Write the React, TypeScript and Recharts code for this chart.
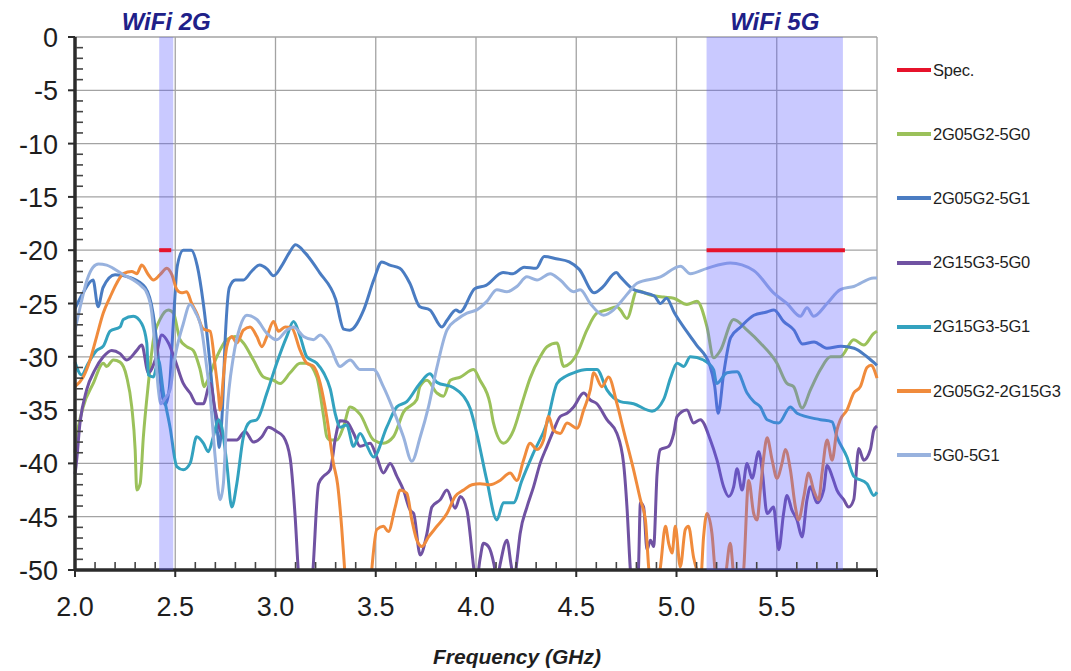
import React from "react";
import {
  LineChart,
  Line,
  XAxis,
  YAxis,
  CartesianGrid,
  ReferenceArea,
  ReferenceLine,
} from "recharts";

type Pt = [number, number];

// frequency (GHz), isolation (dB)
const specWifi2G: Pt[] = [[2.42, -20], [2.48, -20]];
const specWifi5G: Pt[] = [[5.15, -20], [5.84, -20]];

const bandWifi2G = [2.42, 2.49];
const bandWifi5G = [5.15, 5.83];

const iso2G05G2_5G0: Pt[] = [
  [2.0, -39], [2.005, -38.1], [2.041, -34.7], [2.091, -32.5], [2.141, -30.6], [2.158, -30.9],
  [2.191, -30.3], [2.225, -30.5], [2.258, -31.9], [2.283, -34.7], [2.3, -38.7], [2.308, -42.5],
  [2.325, -41.9], [2.341, -37.5], [2.366, -32.5], [2.391, -28.4], [2.424, -26.5], [2.466, -25.6],
  [2.491, -25.9], [2.524, -28.4], [2.557, -29.05], [2.59, -29.4], [2.624, -31.2], [2.645, -32.8],
  [2.657, -32.4], [2.707, -30.0], [2.757, -28.4], [2.798, -28.1], [2.84, -28.7], [2.89, -30.3],
  [2.94, -31.9], [2.99, -32.2], [3.023, -32.5], [3.073, -31.5], [3.123, -30.6], [3.156, -30.6],
  [3.206, -31.9], [3.24, -35.6], [3.256, -37.5], [3.273, -37.8], [3.306, -37.8], [3.34, -36.5],
  [3.372, -34.7], [3.422, -35.4], [3.489, -37.8], [3.538, -38.1], [3.588, -37.5], [3.638, -35.2],
  [3.705, -34.0], [3.72, -32.8], [3.755, -32.2], [3.805, -33.4], [3.838, -33.7], [3.872, -32.2],
  [3.922, -31.9], [3.988, -31.2], [4.02, -32.2], [4.07, -34.4], [4.087, -36.2], [4.137, -38.1],
  [4.187, -36.9], [4.229, -34.4], [4.27, -32.0], [4.32, -30.0], [4.354, -29.05], [4.404, -28.7],
  [4.437, -30.9], [4.47, -30.6], [4.504, -29.7], [4.553, -27.5], [4.603, -25.9], [4.653, -25.6],
  [4.703, -25.3], [4.72, -25.6], [4.753, -26.4], [4.803, -23.8], [4.87, -24.2], [4.936, -24.4],
  [4.986, -24.5], [5.052, -25.1], [5.102, -24.8], [5.152, -27.2], [5.185, -30.1], [5.219, -29.4],
  [5.285, -26.5], [5.352, -27.5], [5.418, -28.7], [5.501, -30.6], [5.551, -32.5], [5.584, -32.8],
  [5.626, -34.8], [5.668, -33.1], [5.718, -31.2], [5.768, -30.0], [5.817, -30.0], [5.884, -28.4],
  [5.934, -28.9], [5.984, -27.8], [6.0, -27.6],
];

const iso2G05G2_5G1: Pt[] = [
  [2.0, -25.5], [2.04, -24.0], [2.09, -22.8], [2.115, -25.3], [2.14, -23.5], [2.2, -22.3],
  [2.28, -22.6], [2.35, -23.5], [2.39, -26], [2.41, -29], [2.43, -33], [2.45, -34.5], [2.47, -33],
  [2.49, -27], [2.51, -21.5], [2.54, -20], [2.58, -20], [2.61, -21.5], [2.64, -25], [2.67, -30],
  [2.69, -34], [2.71, -37], [2.72, -38.5], [2.735, -35], [2.75, -28], [2.77, -23.5], [2.8, -22.8],
  [2.84, -22.8], [2.88, -22], [2.92, -21.4], [2.96, -21.8], [2.99, -22.4], [3.03, -21.5],
  [3.07, -20.2], [3.1, -19.5], [3.15, -20.3], [3.22, -22.1], [3.3, -24.6], [3.34, -27.4],
  [3.37, -27.5], [3.44, -25.6], [3.49, -22.8], [3.53, -21.1], [3.57, -21.4], [3.62, -21.7],
  [3.67, -23.1], [3.72, -25.3], [3.77, -25.6], [3.83, -27.2], [3.855, -26.6], [3.9, -25.6],
  [3.92, -25.8], [3.995, -23.6], [4.05, -23.3], [4.135, -22.1], [4.185, -22.2], [4.24, -21.6],
  [4.3, -21.7], [4.34, -20.6], [4.4, -20.8], [4.465, -21.1], [4.515, -21.8], [4.59, -24.0],
  [4.63, -23.5], [4.7, -22.1], [4.72, -22.5], [4.787, -23.7], [4.82, -23.9], [4.89, -24.3],
  [4.92, -25], [4.95, -24.5], [4.99, -25.9], [5.05, -27.6], [5.1, -28.9], [5.166, -30.8],
  [5.19, -32.7], [5.208, -35.3], [5.235, -31.6], [5.27, -28.2], [5.32, -27.2], [5.386, -26.1],
  [5.45, -25.8], [5.486, -25.6], [5.535, -26.7], [5.586, -27.5], [5.628, -28.8], [5.686, -28.6],
  [5.75, -29.2], [5.82, -29.0], [5.886, -29.2], [5.95, -30.0], [6.0, -30.8],
];

const iso2G15G3_5G0: Pt[] = [
  [2.0, -41], [2.005, -40.3], [2.025, -36.2], [2.058, -33.1], [2.1, -31.2], [2.141, -30.0],
  [2.183, -29.4], [2.225, -29.7], [2.258, -30.3], [2.308, -29.4], [2.333, -28.9], [2.366, -31.5],
  [2.4, -30.3], [2.433, -27.95], [2.466, -28.7], [2.499, -30.3], [2.54, -32.5], [2.574, -33.4],
  [2.607, -34.4], [2.64, -34.4], [2.674, -32.5], [2.699, -35.0], [2.724, -36.9], [2.757, -37.8],
  [2.807, -37.8], [2.848, -37.0], [2.89, -38.0], [2.932, -37.5], [2.965, -36.6], [3.006, -37.0],
  [3.04, -37.5], [3.073, -39.5], [3.098, -45.0], [3.115, -50.5], [3.15, -56], [3.185, -50.5],
  [3.215, -41.9], [3.24, -41.2], [3.273, -40.6], [3.3, -37.5], [3.322, -36.0], [3.356, -36.1],
  [3.39, -37.2], [3.422, -38.4], [3.472, -38.1], [3.505, -39.4], [3.538, -40.9], [3.572, -40.0],
  [3.605, -41.2], [3.638, -42.5], [3.672, -44.4], [3.689, -44.7], [3.722, -48.6], [3.755, -46.6],
  [3.78, -44.1], [3.822, -43.4], [3.855, -42.5], [3.896, -44.2], [3.922, -43.1], [3.955, -44.4],
  [3.988, -49.7], [4.0, -51.5], [4.02, -49], [4.037, -47.5], [4.062, -47.8], [4.09, -49.5],
  [4.104, -51], [4.12, -49.5], [4.154, -47.2], [4.175, -49.5], [4.19, -51], [4.205, -49],
  [4.22, -46.6], [4.254, -44.1], [4.287, -42.2], [4.32, -40.0], [4.354, -38.4], [4.387, -36.9],
  [4.42, -35.6], [4.454, -35.3], [4.487, -34.7], [4.537, -33.4], [4.57, -34.05], [4.603, -34.4],
  [4.653, -35.9], [4.703, -37.2], [4.736, -40.0], [4.753, -44.1], [4.77, -50], [4.79, -53],
  [4.81, -50], [4.82, -43.7], [4.836, -44.1], [4.853, -48.1], [4.87, -47.2], [4.886, -47.8],
  [4.903, -41.0], [4.92, -38.7], [4.961, -38.4], [4.986, -37.2], [5.003, -35.6], [5.052, -35.0],
  [5.085, -36.2], [5.119, -35.9], [5.169, -37.8], [5.202, -39.7], [5.235, -42.2], [5.26, -43.1],
  [5.285, -42.2], [5.302, -40.5], [5.327, -42.5], [5.352, -40.0], [5.377, -41.4], [5.41, -38.9],
  [5.427, -40.6], [5.452, -44.7], [5.484, -44.1], [5.51, -48.1], [5.534, -44.7], [5.551, -43.0],
  [5.576, -44.4], [5.601, -45.3], [5.626, -46.9], [5.651, -43.4], [5.668, -42.2], [5.701, -43.7],
  [5.734, -42.5], [5.751, -40.2], [5.776, -41.2], [5.8, -42.5], [5.834, -43.4], [5.859, -44.1],
  [5.884, -43.4], [5.909, -38.6], [5.934, -39.7], [5.967, -38.7], [5.984, -36.9], [6.0, -36.5],
];

const iso2G15G3_5G1: Pt[] = [
  [2.0, -30.5], [2.033, -31.7], [2.066, -30.6], [2.108, -29.4], [2.141, -29.0], [2.175, -27.6],
  [2.225, -27.2], [2.241, -26.5], [2.291, -26.2], [2.333, -26.9], [2.358, -28.7], [2.366, -31.7],
  [2.391, -31.9], [2.416, -30.3], [2.441, -33.4], [2.474, -36.6], [2.508, -40.3], [2.54, -40.6],
  [2.574, -40.0], [2.607, -37.5], [2.64, -38.1], [2.665, -38.9], [2.69, -37.5], [2.715, -35.9],
  [2.732, -36.6], [2.757, -40.0], [2.782, -44.1], [2.807, -41.9], [2.84, -37.5], [2.873, -36.1],
  [2.907, -35.9], [2.957, -33.4], [3.006, -30.6], [3.056, -28.1], [3.09, -26.7], [3.123, -28.1],
  [3.156, -30.0], [3.206, -30.6], [3.24, -31.5], [3.273, -33.0], [3.3, -35.5], [3.322, -36.6],
  [3.355, -36.4], [3.389, -38.4], [3.422, -37.2], [3.455, -38.3], [3.489, -39.4], [3.555, -36.6],
  [3.605, -34.7], [3.655, -34.2], [3.72, -32.5], [3.77, -31.6], [3.805, -32.4], [3.888, -32.9],
  [3.938, -33.7], [3.97, -34.8], [4.004, -37.2], [4.054, -41.6], [4.104, -45.3], [4.137, -43.7],
  [4.187, -43.7], [4.229, -41.6], [4.287, -39.0], [4.354, -36.2], [4.404, -32.5], [4.45, -31.8],
  [4.487, -31.5], [4.553, -31.2], [4.603, -31.2], [4.653, -33.1], [4.72, -34.2], [4.786, -34.4],
  [4.878, -35.1], [4.936, -34.0], [4.97, -32.0], [5.003, -30.6], [5.036, -30.9], [5.069, -30.0],
  [5.135, -30.3], [5.185, -31.2], [5.2, -32.5], [5.252, -31.5], [5.302, -31.4], [5.352, -33.4],
  [5.385, -34.2], [5.418, -34.7], [5.452, -35.9], [5.51, -36.2], [5.568, -34.7], [5.601, -35.3],
  [5.718, -35.9], [5.776, -36.1], [5.8, -37.5], [5.85, -39.4], [5.884, -41.2], [5.95, -41.9],
  [5.984, -43.0], [6.0, -42.7],
];

const iso2G05G2_2G15G3: Pt[] = [
  [2.0, -32.8], [2.041, -31.9], [2.075, -30.3], [2.108, -28.1], [2.141, -25.9], [2.175, -24.4],
  [2.208, -23.1], [2.241, -22.2], [2.283, -22.0], [2.308, -22.2], [2.333, -21.4], [2.366, -22.3],
  [2.391, -22.8], [2.424, -22.3], [2.458, -21.7], [2.483, -22.3], [2.508, -23.7], [2.532, -24.0],
  [2.557, -23.9], [2.582, -25.0], [2.607, -25.9], [2.64, -27.4], [2.674, -27.6], [2.699, -30.9],
  [2.715, -33.4], [2.724, -35.0], [2.74, -31.9], [2.757, -29.05], [2.782, -28.1], [2.807, -28.7],
  [2.84, -27.5], [2.873, -27.2], [2.907, -28.1], [2.932, -29.05], [2.957, -28.1], [2.99, -26.7],
  [3.015, -27.6], [3.048, -27.2], [3.081, -27.3], [3.123, -29.4], [3.156, -30.6], [3.19, -30.9],
  [3.223, -32.5], [3.256, -35.7], [3.289, -40.0], [3.31, -42], [3.33, -46], [3.347, -50.5],
  [3.38, -56], [3.42, -58], [3.46, -55], [3.48, -50], [3.505, -46.2], [3.538, -45.9],
  [3.563, -46.4], [3.597, -44.1], [3.622, -42.5], [3.655, -42.8], [3.68, -45.3], [3.705, -47.2],
  [3.73, -47.8], [3.763, -46.9], [3.805, -45.9], [3.855, -44.7], [3.896, -43.1], [3.938, -42.5],
  [3.98, -42.0], [4.02, -41.9], [4.07, -42.0], [4.12, -41.6], [4.17, -40.9], [4.204, -41.6],
  [4.237, -39.7], [4.27, -38.1], [4.304, -38.7], [4.337, -37.8], [4.362, -35.6], [4.387, -36.9],
  [4.42, -37.2], [4.454, -36.2], [4.504, -36.7], [4.537, -35.0], [4.57, -33.1], [4.587, -31.5],
  [4.628, -32.8], [4.661, -31.9], [4.703, -34.4], [4.736, -36.9], [4.786, -40.6], [4.82, -43.4],
  [4.845, -45.3], [4.861, -49.7], [4.875, -52], [4.9, -52], [4.92, -49.7], [4.945, -45.9],
  [4.961, -47.5], [4.978, -48.4], [4.994, -45.9], [5.019, -49.7], [5.044, -46.2], [5.06, -45.9],
  [5.085, -48.8], [5.11, -50.5], [5.12, -51], [5.135, -46.9], [5.152, -44.7], [5.177, -46.6],
  [5.194, -50.5], [5.22, -53], [5.245, -50.5], [5.268, -47.5], [5.285, -50.5], [5.31, -53],
  [5.335, -50], [5.36, -41.6], [5.385, -44.7], [5.402, -45.3], [5.418, -42.5], [5.435, -39.4],
  [5.452, -37.6], [5.477, -39.7], [5.501, -41.4], [5.526, -40.0], [5.543, -38.7], [5.568, -40.6],
  [5.593, -44.1], [5.609, -45.3], [5.635, -43.1], [5.659, -40.9], [5.684, -42.5], [5.709, -43.4],
  [5.726, -40.9], [5.751, -37.8], [5.776, -39.7], [5.8, -36.9], [5.817, -35.9], [5.85, -35.0],
  [5.884, -33.4], [5.917, -32.8], [5.95, -31.0], [5.97, -30.8], [6.0, -32.0],
];

const iso5G0_5G1: Pt[] = [
  [2.0, -27.5], [2.03, -25], [2.06, -22.8], [2.09, -21.6], [2.117, -21.3], [2.158, -21.4],
  [2.191, -21.7], [2.241, -22.3], [2.291, -22.8], [2.333, -23.4], [2.358, -24.0], [2.383, -25.9],
  [2.4, -29.4], [2.416, -33.1], [2.428, -34.4], [2.449, -33.9], [2.474, -33.1], [2.499, -30.0],
  [2.54, -26.9], [2.574, -25.1], [2.6, -25.8], [2.632, -27.5], [2.657, -31], [2.674, -33.7],
  [2.699, -39.4], [2.724, -43.4], [2.74, -41.9], [2.757, -35.6], [2.79, -30.0], [2.823, -27.2],
  [2.857, -26.1], [2.907, -26.5], [2.957, -27.8], [3.006, -28.4], [3.056, -27.5], [3.09, -27.2],
  [3.14, -28.1], [3.19, -28.4], [3.223, -27.95], [3.273, -29.05], [3.322, -30.9], [3.372, -30.3],
  [3.422, -31.2], [3.489, -31.2], [3.538, -32.8], [3.588, -35.0], [3.638, -37.5], [3.68, -39.8],
  [3.722, -37.5], [3.763, -34.7], [3.805, -31.0], [3.855, -27.5], [3.905, -26.5], [3.955, -25.9],
  [4.004, -25.6], [4.054, -24.8], [4.104, -23.7], [4.154, -23.9], [4.204, -23.4], [4.254, -22.5],
  [4.304, -22.8], [4.37, -22.2], [4.42, -22.8], [4.487, -23.9], [4.52, -23.7], [4.57, -25.0],
  [4.636, -26.1], [4.686, -25.6], [4.72, -24.9], [4.76, -24.0], [4.803, -23.1], [4.92, -22.5],
  [5.02, -21.5], [5.069, -22.2], [5.152, -21.7], [5.268, -21.2], [5.385, -21.9], [5.484, -24.0],
  [5.551, -25.0], [5.618, -26.2], [5.651, -25.4], [5.684, -26.2], [5.751, -25.0], [5.817, -23.7],
  [5.884, -23.4], [5.984, -22.6], [6.0, -22.6],
];

const series = [
  { name: "2G05G2-5G0", color: "#9bc15a", points: iso2G05G2_5G0 },
  { name: "2G05G2-5G1", color: "#4a7cc2", points: iso2G05G2_5G1 },
  { name: "2G15G3-5G0", color: "#7052a2", points: iso2G15G3_5G0 },
  { name: "2G15G3-5G1", color: "#33a2bf", points: iso2G15G3_5G1 },
  { name: "2G05G2-2G15G3", color: "#f08b3c", points: iso2G05G2_2G15G3 },
  { name: "5G0-5G1", color: "#98b2de", points: iso5G0_5G1 },
];

const specColor = "#e6132b";
const legendItems = [{ name: "Spec.", color: specColor }, ...series];

const xMajorTicks = [2.0, 2.5, 3.0, 3.5, 4.0, 4.5, 5.0, 5.5, 6.0];
const xLabels = ["2.0", "2.5", "3.0", "3.5", "4.0", "4.5", "5.0", "5.5", ""];
const yMajorTicks = [0, -5, -10, -15, -20, -25, -30, -35, -40, -45, -50];

// minor ticks: every 0.1 GHz and every 1 dB
const xMinorTicks = Array.from({ length: 41 }, (_, i) => Math.round((2 + i * 0.1) * 10) / 10);
const yMinorTicks = Array.from({ length: 51 }, (_, i) => -i);

const FONT = "'Liberation Sans', Arial, sans-serif";
const AXIS = "#2b2b2b";

const toRows = (pts: Pt[]) => pts.map(([f, v]) => ({ f, v }));

const XTick = (props: any) => {
  const { x, y, payload } = props;
  const idx = xMajorTicks.findIndex((t) => Math.abs(t - payload.value) < 1e-6);
  if (idx < 0) {
    return <line x1={x} x2={x} y1={y - 1} y2={y - 8} stroke="#444" strokeWidth={1.6} />;
  }
  return (
    <g>
      <line x1={x} x2={x} y1={y} y2={y + 7} stroke={AXIS} strokeWidth={2} />
      <text x={x} y={y + 46} textAnchor="middle" fontFamily={FONT} fontSize={27} fill="#1e1e1e">
        {xLabels[idx]}
      </text>
    </g>
  );
};

const YTick = (props: any) => {
  const { x, y, payload } = props;
  const major = yMajorTicks.includes(payload.value);
  if (!major) {
    return <line x1={x + 1} x2={x + 8} y1={y} y2={y} stroke="#444" strokeWidth={1.6} />;
  }
  return (
    <g>
      <line x1={x - 7} x2={x} y1={y} y2={y} stroke={AXIS} strokeWidth={2} />
      <text x={x - 17} y={y + 10} textAnchor="end" fontFamily={FONT} fontSize={27} fill="#1e1e1e">
        {payload.value}
      </text>
    </g>
  );
};

const bandLabel = (value: string) => ({
  value,
  position: "top" as const,
  offset: 7,
  fill: "#202088",
  fontSize: 24,
  fontWeight: 700,
  fontStyle: "italic",
  fontFamily: FONT,
});

export default function App() {
  return (
    <div style={{ position: "absolute", left: 0, top: 0, width: 1071, height: 671, background: "#fff" }}>
      <LineChart
        width={1071}
        height={671}
        margin={{ top: 37, right: 194, bottom: 0, left: 0 }}
      >
        <CartesianGrid
          stroke="#a3a3a3"
          strokeWidth={1.3}
          verticalValues={xMajorTicks}
          horizontalValues={yMajorTicks}
        />
        <XAxis
          dataKey="f"
          type="number"
          domain={[2, 6]}
          ticks={xMinorTicks}
          interval={0}
          tick={<XTick />}
          tickLine={false}
          tickSize={0}
          tickMargin={0}
          height={101}
          axisLine={{ stroke: AXIS, strokeWidth: 3.5 }}
          allowDuplicatedCategory={false}
          label={{
            value: "Frequency (GHz)",
            position: "insideBottom",
            offset: 7,
            dx: 41,
            fill: "#1e1e1e",
            fontSize: 21,
            fontWeight: 700,
            fontStyle: "italic",
            fontFamily: FONT,
          }}
        />
        <XAxis
          xAxisId="top"
          orientation="top"
          type="number"
          domain={[2, 6]}
          tick={false}
          tickLine={false}
          height={0}
          axisLine={{ stroke: "#111", strokeWidth: 3.5 }}
        />
        <YAxis
          type="number"
          domain={[-50, 0]}
          allowDataOverflow
          ticks={yMinorTicks}
          interval={0}
          tick={<YTick />}
          tickLine={false}
          tickSize={0}
          tickMargin={0}
          width={75}
          axisLine={{ stroke: AXIS, strokeWidth: 3.5 }}
        />
        <YAxis
          yAxisId="right"
          orientation="right"
          type="number"
          domain={[-50, 0]}
          tick={false}
          tickLine={false}
          width={0}
          axisLine={{ stroke: "#111", strokeWidth: 3 }}
        />
        {series.map((s) => (
          <Line
            key={s.name}
            data={toRows(s.points)}
            dataKey="v"
            name={s.name}
            type="monotone"
            stroke={s.color}
            strokeWidth={3}
            dot={false}
            activeDot={false}
            strokeLinejoin="round"
            isAnimationActive={false}
          />
        ))}
        <ReferenceArea
          x1={bandWifi2G[0]}
          x2={bandWifi2G[1]}
          y1={-50}
          y2={0}
          fill="#5a5aff"
          fillOpacity={0.33}
          stroke="none"
          zIndex={600}
          label={bandLabel("WiFi 2G")}
        />
        <ReferenceArea
          x1={bandWifi5G[0]}
          x2={bandWifi5G[1]}
          y1={-50}
          y2={0}
          fill="#5a5aff"
          fillOpacity={0.33}
          stroke="none"
          zIndex={600}
          label={bandLabel("WiFi 5G")}
        />
        {[specWifi2G, specWifi5G].map((seg, i) => (
          <ReferenceLine
            key={i}
            segment={seg.map(([x, y]) => ({ x, y }))}
            stroke={specColor}
            strokeWidth={4}
            zIndex={700}
          />
        ))}
      </LineChart>
      <div style={{ position: "absolute", left: 897, top: 0, fontFamily: FONT }}>
        {legendItems.map((item, i) => (
          <div
            key={item.name}
            style={{
              position: "absolute",
              left: 0,
              top: 70 + i * 64.2 - 10,
              height: 20,
              display: "flex",
              alignItems: "center",
              whiteSpace: "nowrap",
            }}
          >
            <div style={{ width: 34, height: 4, background: item.color, marginRight: 2 }} />
            <span style={{ fontSize: 16.5, color: "#1e1e1e", letterSpacing: -0.2 }}>{item.name}</span>
          </div>
        ))}
      </div>
    </div>
  );
}
